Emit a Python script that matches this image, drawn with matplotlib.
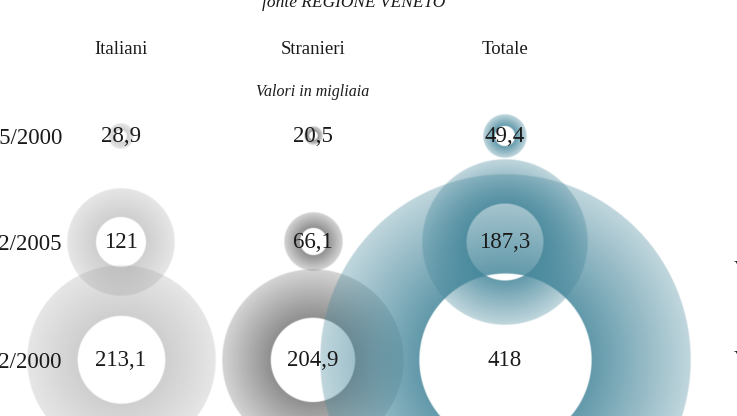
import numpy as np
import matplotlib
matplotlib.use("Agg")
import matplotlib.pyplot as plt

# ---- data ----
columns = ["Italiani", "Stranieri", "Totale"]
rows = ["2005/2000", "31/12/2005", "31/12/2000"]
italiani = [28.9, 121.0, 213.1]
stranieri = [20.5, 66.1, 204.9]
totale = [49.4, 187.3, 418.0]
value_labels = [["28,9", "20,5", "49,4"],
                ["121", "66,1", "187,3"],
                ["213,1", "204,9", "418"]]
title_source = "fonte REGIONE VENETO"
subtitle = "Valori in migliaia"

# ---- layout / style ----
W, H = 737, 416
col_x = [121, 313, 505]
row_y = [136, 242, 360]
px_per_unit = 0.443
inner_frac = 0.465
# base rgb, alpha at inner edge, alpha at outer edge
styles = [
    ((150, 150, 150), 0.46, 0.24),
    ((90, 90, 90), 0.68, 0.26),
    ((70, 135, 155), 0.85, 0.34),
]
serif = ["Liberation Serif", "DejaVu Serif"]

fig = plt.figure(figsize=(W / 100, H / 100), dpi=100)
ax = fig.add_axes([0, 0, 1, 1])
ax.set_xlim(0, W)
ax.set_ylim(H, 0)
ax.set_aspect("equal")
ax.axis("off")


def ring(cx, cy, value, style, z):
    rgb, a_in, a_out = style
    r_out = value * px_per_unit
    r_in = r_out * inner_frac
    n = max(64, int(4 * r_out))
    lin = np.linspace(-r_out - 1, r_out + 1, n)
    xx, yy = np.meshgrid(lin, lin)
    d = np.hypot(xx, yy)
    t = np.clip((d - r_in) / (r_out - r_in), 0, 1)
    alpha = a_in + (a_out - a_in) * t
    mask = np.clip(r_out - d + 0.5, 0, 1) * np.clip(d - r_in + 0.5, 0, 1)
    img = np.zeros((n, n, 4))
    img[..., 0] = rgb[0] / 255
    img[..., 1] = rgb[1] / 255
    img[..., 2] = rgb[2] / 255
    img[..., 3] = alpha * mask
    ax.imshow(img, extent=(cx - r_out - 1, cx + r_out + 1, cy + r_out + 1, cy - r_out - 1),
              interpolation="bilinear", zorder=z)


series = [italiani, stranieri, totale]
z = 1
for ci, vals in enumerate(series):
    for ri, v in enumerate(vals):
        ring(col_x[ci], row_y[ri], v, styles[ci], z)
        z += 1

ax.set_xlim(0, W)
ax.set_ylim(H, 0)

for ri in range(3):
    for ci in range(3):
        ax.text(col_x[ci], row_y[ri] + 1, value_labels[ri][ci], ha="center", va="center",
                fontsize=16.5, family=serif, color="#1a1a1a", zorder=50)
    ax.text(62, row_y[ri] + 3, rows[ri], ha="right", va="center", fontsize=16.5,
            family=serif, color="#1a1a1a", zorder=50)

for ci, name in enumerate(columns):
    ax.text(col_x[ci], 50, name, ha="center", va="center", fontsize=13.5,
            family=serif, color="#1a1a1a", zorder=50)

ax.text(313, 92, subtitle, ha="center", va="center", fontsize=11.5, style="italic",
        family=serif, color="#1a1a1a", zorder=50)
ax.text(354, 3, title_source, ha="center", va="center", fontsize=12.5, style="italic",
        family=serif, color="#1a1a1a", zorder=50)

# labels cut off at the right edge, as in the reference
ax.text(734, 261, "Var.", ha="left", va="top", fontsize=16, family=serif,
        color="#1a1a1a", zorder=50, clip_on=False)
ax.text(734, 351, "Var.", ha="left", va="top", fontsize=16, family=serif,
        color="#1a1a1a", zorder=50, clip_on=False)

fig.savefig("out.png", dpi=100)
